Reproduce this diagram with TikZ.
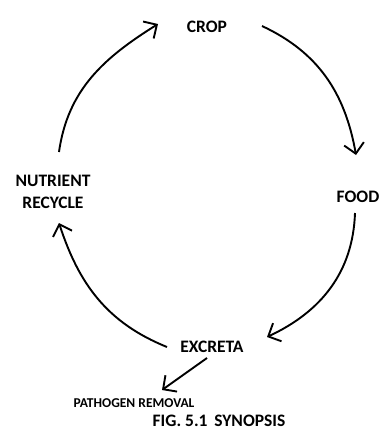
\documentclass[tikz,border=0pt]{standalone}
\usepackage{fontspec}
\setmainfont{Carlito}
\usetikzlibrary{arrows.meta}
\begin{document}
\begin{tikzpicture}[x=1pt,y=-1pt,
  lbl/.style={font=\bfseries\fontsize{17.5}{22}\selectfont, inner sep=1pt, align=center},
  small/.style={font=\bfseries\fontsize{13.5}{16}\selectfont, inner sep=1pt},
  flow/.style={line width=1.9pt, -{Straight Barb[length=10pt,width=20pt,line width=1.9pt]}}]
\useasboundingbox (0,0) rectangle (382,434);
\node[lbl] (crop) at (207,27) {CROP};
\node[lbl] (food) at (358,197) {FOOD};
\node[lbl] (nut) at (53,192) {NUTRIENT\\RECYCLE};
\node[lbl] (exc) at (212,347) {EXCRETA};
\node[small] (path) at (134,403) {PATHOGEN REMOVAL};
\node[lbl] (fig) at (219,421) {FIG. 5.1\, SYNOPSIS};
\coordinate (a1s) at (59,152);  \coordinate (a1e) at (158,24);
\coordinate (a2s) at (262,26);  \coordinate (a2e) at (356,155);
\coordinate (a3s) at (355,213); \coordinate (a3e) at (267,337);
\coordinate (a4s) at (167,347); \coordinate (a4e) at (59,223);
\coordinate (a5s) at (207,358); \coordinate (a5e) at (162,390);
\draw[flow] (a1s) to[out=82,in=212] (a1e);
\draw[flow] (a2s) to[out=-25,in=100] (a2e);
\draw[flow] (a3s) to[out=-92,in=25] (a3e);
\draw[flow] (a4s) to[out=158,in=-72] (a4e);
\draw[flow] (a5s) -- (a5e);
\end{tikzpicture}
\end{document}
